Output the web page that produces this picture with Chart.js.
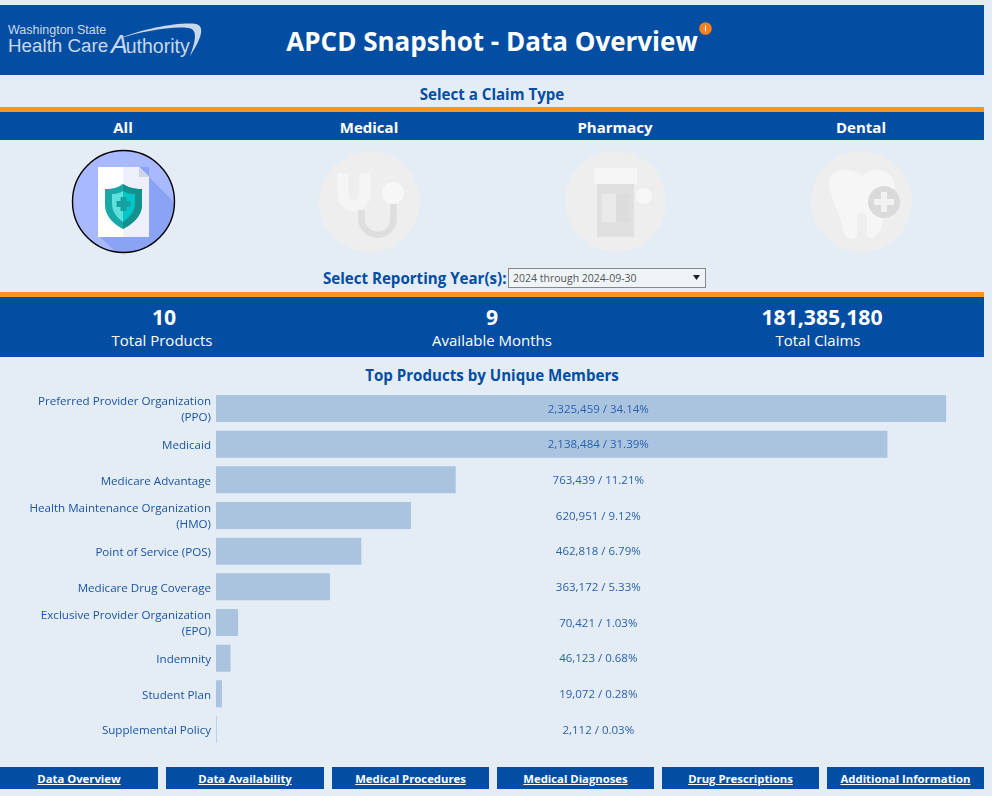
<!DOCTYPE html>
<html><head><meta charset="utf-8">
<script src="https://cdn.jsdelivr.net/npm/chart.js@4/dist/chart.umd.min.js"></script>
<style>
html,body{margin:0;padding:0;background:#E4ECF6;overflow:hidden}
body{width:992px;height:796px;position:relative;font-family:"Open Sans",sans-serif;color:#034EA2}
.a{position:absolute;white-space:nowrap}
.c{transform:translateX(-50%)}
.band{position:absolute;left:0;width:984px;background:#034EA2}
.org{position:absolute;left:0;width:984px;height:5px;background:#F7941E}
.w{color:#fff}
.h{font-size:15.1px;font-weight:700;line-height:20px}
.t{top:118px;font-size:15px;font-weight:700;line-height:18px}
.n{top:303px;font-size:21.2px;font-weight:700;line-height:27px}
.s{top:330px;font-size:15px;line-height:20px}
.nav{position:absolute;top:767px;height:22px;background:#034EA2;color:#fff;font-weight:700;font-size:11.3px;line-height:24px;text-align:center;text-decoration:underline}
canvas{display:block}
#box{position:absolute;left:0;top:385px;width:984px;height:370px}
.logo{color:#C9D8EC;font-family:'Liberation Sans'}
</style></head><body>
<div class="band" style="top:5px;height:70px"></div>
<div class="a logo" style="left:8px;top:23px;font-size:12.5px;line-height:14px">Washington State</div>
<div class="a logo" style="left:8px;top:35px;font-size:18.8px;line-height:22px">Health Care</div>
<div class="a logo" style="left:111px;top:31px;font-size:19.5px;line-height:26px"><span style="font-size:25px;font-style:italic;letter-spacing:-2px">A</span>uthority</div>
<svg class="a" style="left:110px;top:20px" width="95" height="40" viewBox="0 0 95 40"><path d="M8 19 C35 8 70 2 86 4 C95 6 92 18 80 36 C86 20 88 9 78 8 C60 6 30 12 8 19Z" fill="#C9D8EC"/></svg>
<div class="a w c" style="left:492px;top:24px;font-size:26px;font-weight:700;line-height:34px">APCD Snapshot - Data Overview</div>
<svg class="a" style="left:699px;top:22px" width="13" height="13"><circle cx="6.5" cy="6.5" r="6.3" fill="#F58220"/><rect x="6" y="3.5" width="1" height="6" fill="#fff"/></svg>
<div class="a c h" style="left:492px;top:84px">Select a Claim Type</div>
<div class="org" style="top:107px"></div>
<div class="band" style="top:112px;height:28px"></div>
<div class="a w c t" style="left:123px">All</div>
<div class="a w c t" style="left:369px">Medical</div>
<div class="a w c t" style="left:615px">Pharmacy</div>
<div class="a w c t" style="left:861px">Dental</div>
<svg class="a" style="left:71px;top:149px" width="106" height="106"><defs><clipPath id="k"><circle cx="52.5" cy="52.5" r="51"/></clipPath></defs><circle cx="52.5" cy="52.5" r="51" fill="#A9B9FF"/><path d="M27 18H78V28L106 56V106H48L27 86Z" fill="#8AA3F5" clip-path="url(#k)"/><path d="M27 18H68L78 28V88H27Z" fill="#fff"/><path d="M52 18H68L78 28V88H52Z" fill="#EDEFFA"/><path d="M68 18L78 28H68Z" fill="#D0D6E8"/><path d="M34 40C42 40 48 38 52 35C56 38 63 40 71 40V56C71 68 60 76 52 80C44 76 34 68 34 56Z" fill="#17A8A8"/><path d="M52 35C56 38 63 40 71 40V56C71 68 60 76 52 80Z" fill="#14908F"/><path d="M41 45C46 45 49 44 52 42V73C46 69 41 62 41 55Z" fill="#5FE0DC"/><path d="M52 42C55 44 58 45 64 45V55C64 62 58 69 52 73Z" fill="#00C7C7"/><path d="M49.5 48H55.5V52H59.5V58H55.5V62H49.5V58H45.5V52H49.5Z" fill="#17A0A0"/><circle cx="52.5" cy="52.5" r="51" fill="none" stroke="#000" stroke-width="1.4"/></svg>
<svg class="a" style="left:319px;top:151px" width="101" height="101"><circle cx="50.5" cy="50.5" r="50.5" fill="#EEEEEE"/><path d="M24 22V43.5A11 11 0 0 0 46 43.5V22" fill="none" stroke="#F5F5F5" stroke-width="11"/><path d="M42.5 59V67.7A16 16 0 0 0 74.5 67.7V50" fill="none" stroke="#DEDEDE" stroke-width="6.5"/><circle cx="74" cy="42" r="11" fill="#F7F7F7"/></svg>
<svg class="a" style="left:565px;top:151px" width="101" height="101"><circle cx="50.5" cy="50.5" r="50.5" fill="#EEEEEE"/><rect x="29" y="17" width="43" height="16" fill="#F6F6F6"/><rect x="32" y="33" width="37" height="53" fill="#E0E0E0"/><rect x="37" y="43" width="14" height="28" fill="#EAEAEA"/><rect x="51" y="43" width="14" height="28" fill="#DCDCDC"/><circle cx="79" cy="45" r="8" fill="#F7F7F7"/></svg>
<svg class="a" style="left:811px;top:151px" width="101" height="101"><circle cx="50.5" cy="50.5" r="50.5" fill="#EEEEEE"/><path d="M18 33C18 22 27 19 36 19C42 19 47 21 51 25C55 21 60 19 66 19C76 19 84 26 84 36C84 50 76 56 72 70C70 82 62 90 56 86V68C56 60 46 60 46 68V86C42 90 34 88 32 78C30 64 20 50 18 33Z" fill="#F6F6F6"/><circle cx="73" cy="51" r="16" fill="#DADADA"/><path d="M70 41H76V48H83V54H76V61H70V54H63V48H70Z" fill="#F2F2F2"/></svg>
<div class="a h" style="left:323px;top:268px">Select Reporting Year(s):</div>
<div class="a" style="left:508px;top:268px;width:196px;height:18px;background:#EFF4F9;border:1px solid #888;font-size:10.5px;line-height:18px;color:#555"><span style="margin-left:4px">2024 through 2024-09-30</span><svg class="a" style="left:184px;top:6px" width="7" height="5"><path d="M0 0H7L3.5 5Z" fill="#222"/></svg></div>
<div class="org" style="top:292px"></div>
<div class="band" style="top:297px;height:60px"></div>
<div class="a w c n" style="left:164px">10</div>
<div class="a w c s" style="left:162px">Total Products</div>
<div class="a w c n" style="left:492px">9</div>
<div class="a w c s" style="left:492px">Available Months</div>
<div class="a w c n" style="left:822px">181,385,180</div>
<div class="a w c s" style="left:818px">Total Claims</div>
<div class="a c h" style="left:492px;top:364.5px">Top Products by Unique Members</div>
<div id="box"><canvas id="ch" width="984" height="370"></canvas></div>
<div class="nav" style="left:0;width:158px">Data Overview</div>
<div class="nav" style="left:166px;width:158px">Data Availability</div>
<div class="nav" style="left:332px;width:157px">Medical Procedures</div>
<div class="nav" style="left:497px;width:157px">Medical Diagnoses</div>
<div class="nav" style="left:662px;width:157px">Drug Prescriptions</div>
<div class="nav" style="left:827px;width:157px">Additional Information</div>
<script>
const categories=[["Preferred Provider Organization","(PPO)"],"Medicaid","Medicare Advantage",["Health Maintenance Organization","(HMO)"],"Point of Service (POS)","Medicare Drug Coverage",["Exclusive Provider Organization","(EPO)"],"Indemnity","Student Plan","Supplemental Policy"];
const members=[2325459,2138484,763439,620951,462818,363172,70421,46123,19072,2112];
const shares=["34.14","31.39","11.21","9.12","6.79","5.33","1.03","0.68","0.28","0.03"];
const valueLabels={id:'valueLabels',afterDatasetsDraw(c){
  const {ctx,scales:{y}}=c;ctx.save();
  ctx.font='11.5px "Open Sans"';ctx.fillStyle='#2A62AE';ctx.textAlign='center';ctx.textBaseline='middle';
  members.forEach((m,i)=>{ctx.fillText(m.toLocaleString('en-US')+' / '+shares[i]+'%',598.3,y.getPixelForValue(i)+0.8);});
  ctx.restore();}};
new Chart(document.getElementById('ch'),{type:'bar',plugins:[valueLabels],
 data:{labels:categories,datasets:[{data:members,backgroundColor:'#AAC4E0',barPercentage:1,categoryPercentage:.757}]},
 options:{indexAxis:'y',responsive:false,animation:false,
  layout:{padding:{left:0,right:0,top:5.67,bottom:7.67}},
  plugins:{legend:{display:false},tooltip:{enabled:false}},
  scales:{x:{display:false,min:0,max:2446000},
   y:{afterFit(s){s.width=216;s.paddingTop=0;s.paddingBottom=0},grid:{display:false,drawTicks:false},border:{display:false},
      ticks:{autoSkip:false,padding:5,labelOffset:1.5,color:'#1A55A6',font:{family:'"Open Sans"',size:11.6,lineHeight:1.39}}}}}});
</script>
</body></html>
